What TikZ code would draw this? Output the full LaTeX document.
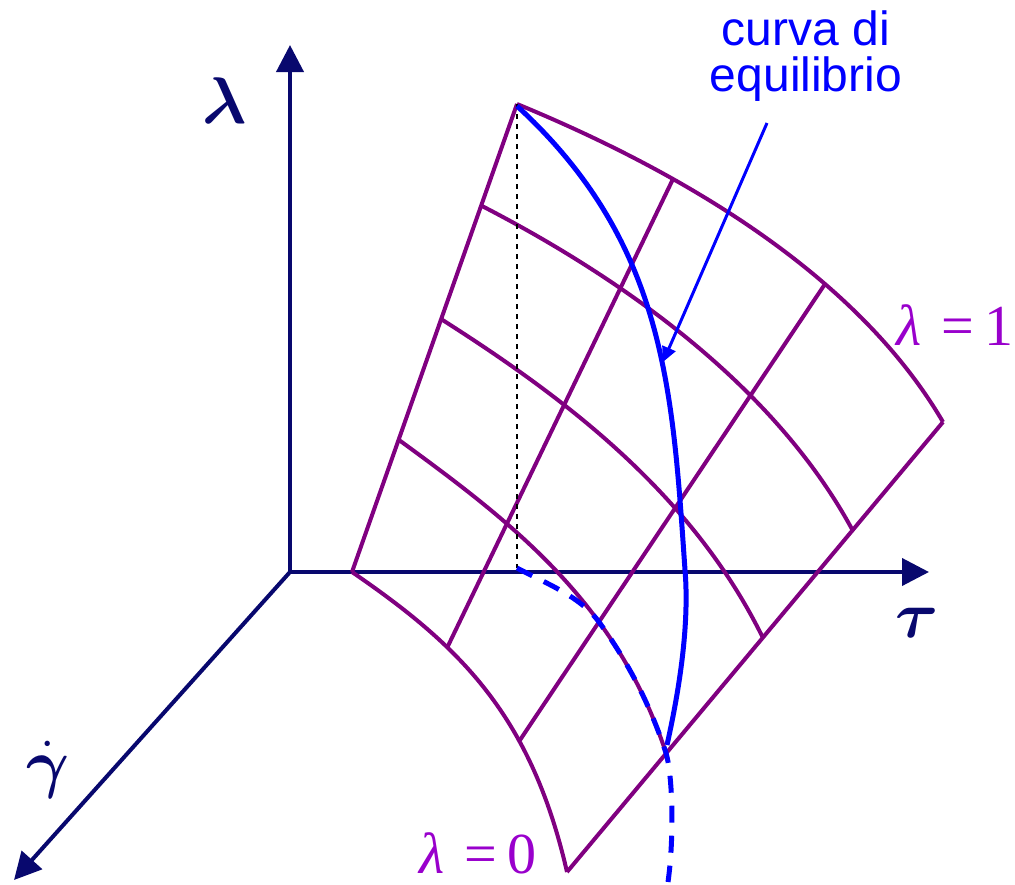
\documentclass[tikz,border=0pt]{standalone}
\usepackage{amsmath}
\usepackage{fontspec}
\newfontfamily\notefont{Liberation Sans}
\newfontfamily\lamfont{Liberation Serif}
\usetikzlibrary{arrows.meta}

\definecolor{axisblue}{RGB}{8,8,110}
\definecolor{meshpurple}{RGB}{128,0,128}
\definecolor{lampurple}{RGB}{153,0,204}

\begin{document}
\begin{tikzpicture}[x=1pt,y=-1pt,
 axis/.style={line width=4pt,color=axisblue,-{Triangle[length=27pt,width=27pt]}},
 mesh/.style={line width=4pt,color=meshpurple,line join=round},
 eqcurve/.style={line width=5pt,color=blue},
 axlabel/.style={text=axisblue,font=\Huge,scale=2.65},
 lamlabel/.style={text=lampurple,font=\lamfont\fontsize{58}{58}\selectfont,anchor=base}]
\useasboundingbox (0,0) rectangle (1015,884);

% axes
\coordinate (O) at (290,572);
\coordinate (lamtip) at (290,45);
\coordinate (tautip) at (929,572);
\coordinate (gamtip) at (14,880);
\draw[axis] (O)--(lamtip);
\draw[axis] (O)--(tautip);
\draw[axis] (O)--(gamtip);
\node[axlabel,anchor=base] (lamax) at (225,123) {$\boldsymbol{\lambda}$};
\node[axlabel,anchor=base] (tauax) at (917,637) {$\boldsymbol{\tau}$};
\node[axlabel] (gamax) at (48,770) {$\dot{\boldsymbol{\gamma}}$};

% grid points, rows from lambda=1 (t) down to lambda=0 (d)
\coordinate (t0) at (517,104); \coordinate (t1) at (673,179);
\coordinate (t2) at (825,284); \coordinate (t3) at (943,422);
\coordinate (a0) at (482,206); \coordinate (a1) at (620,288);
\coordinate (a2) at (751,396); \coordinate (a3) at (853,531);
\coordinate (b0) at (441,319); \coordinate (b1) at (563,404);
\coordinate (b2) at (675,508); \coordinate (b3) at (763,638);
\coordinate (c0) at (399,440); \coordinate (c1) at (506,523);
\coordinate (c2) at (599,622); \coordinate (c3) at (666,753);
\coordinate (d0) at (352,572); \coordinate (d1) at (447,648);
\coordinate (d2) at (520,740); \coordinate (d3) at (567,872);

% straight lines
\foreach \j in {0,1,2,3}
  \draw[mesh] (t\j)--(d\j);
% curved lines
\draw[mesh] (t0) .. controls (665,165) and (852,266.5) .. (t3);
\draw[mesh] (a0) .. controls (616.2,275.3) and (772.8,382.2) .. (a3);
\draw[mesh] (b0) .. controls (563.3,396.8) and (691.7,492.7) .. (b3);
\draw[mesh] (c0) .. controls (509,520.3) and (616,600.7) .. (c3);
\draw[mesh] (d0) .. controls (460,646) and (531,715) .. (d3);

% projection
\coordinate (foot) at (517,568);
\draw[black,line width=1.5pt,dash pattern=on 5pt off 5pt] (t0)--(foot);

% equilibrium curve
\coordinate (eqtop) at (517,106);
\coordinate (eqmid) at (685,570);
\coordinate (eqend) at (667,745);
\coordinate (eqlow) at (668,882);
\draw[eqcurve] (eqtop) .. controls (666,243) and (672.5,390) .. (eqmid)
  .. controls (690,630) and (677,700) .. (eqend);
\draw[eqcurve,dash pattern=on 17pt off 13pt] (foot) .. controls (545,583) and (580,596) .. (c2)
  .. controls (626.3,659.4) and (649.3,702.2) .. (c3)
  .. controls (673,777) and (674,840) .. (eqlow);

% labels
\node[lamlabel] (lam1) at (955,345) {\itshape λ\upshape\kern20pt=\kern10pt1};
\node[lamlabel] (lam0) at (478,873) {\itshape λ\upshape\kern20pt=\kern10pt0};
\node[text=blue,font=\notefont\fontsize{48}{46}\selectfont,align=center] (note) at (806,56) {curva di\\equilibrio};
\coordinate (notefoot) at (767,123);
\coordinate (eqpt) at (663,362);
\draw[line width=3pt,blue,-{Triangle[length=15pt,width=14pt]}] (notefoot)--(eqpt);
\end{tikzpicture}
\end{document}
